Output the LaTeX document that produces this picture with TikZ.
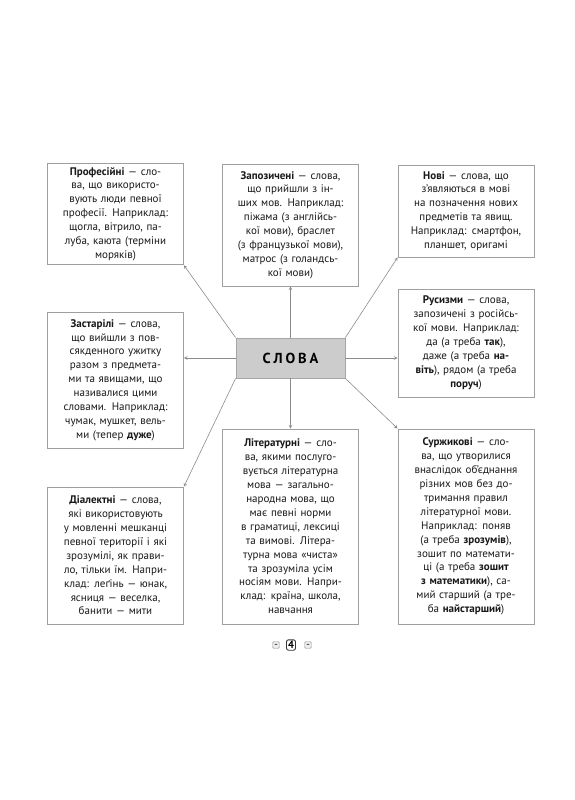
\documentclass[tikz,border=0pt]{standalone}
\usepackage{fontspec}
\setmainfont{PT Sans}
\usepackage{tikz}
\usetikzlibrary{arrows, positioning, shapes}

\begin{document}
\begin{tikzpicture}[
    x=1pt, y=-1pt,
    word/.style={draw=gray!75, line width=0.8pt, fill=white, text width=124pt, inner xsep=6pt, inner ysep=4pt,
        align=center, font=\fontsize{11}{13.9}\selectfont, text=black!90},
    root/.style={draw=gray!70, line width=0.8pt, fill=gray!40, minimum width=109pt, minimum height=40pt,
        font=\fontsize{14.5}{16}\selectfont\bfseries\addfontfeatures{LetterSpace=20}},
    link/.style={->, >=stealth, draw=gray!90, line width=0.6pt},
    pagemark/.style={draw=gray!80, fill=gray!15, rounded corners=1.5pt, minimum size=7pt, inner sep=0pt, font=\fontsize{6}{6}\selectfont\bfseries}
]
\useasboundingbox (0,0) rectangle (575,800);

\node [root] (slova) at (290.5,358) {СЛОВА};

\node [word, minimum height=98pt] (prof) at (115.5,214) {\textbf{Професійні} — сло-\\ва, що використо-\\вують люди певної\\професії. Наприклад:\\щогла, вітрило, па-\\луба, каюта (терміни\\моряків)};
\node [word, minimum height=122pt] (zapoz) at (290.5,225) {\textbf{Запозичені} — слова,\\що прийшли з ін-\\ших мов. Наприклад:\\піжама (з англійсь-\\кої мови), браслет\\(з французької мови),\\матрос (з голандсь-\\кої мови)};
\node [word, minimum height=92pt] (novi) at (466,211) {\textbf{Нові} — слова, що\\з’являються в мові\\на позначення нових\\предметів та явищ.\\Наприклад: смартфон,\\планшет, оригамі};

\node [word, minimum height=136pt] (zast) at (115.5,380) {\textbf{Застарілі} — слова,\\що вийшли з пов-\\сякденного ужитку\\разом з предмета-\\ми та явищами, що\\називалися цими\\словами. Наприклад:\\чумак, мушкет, вель-\\ми (тепер \textbf{дуже})};
\node [word, minimum height=108pt] (rus) at (466,343) {\textbf{Русизми} — слова,\\запозичені з російсь-\\кої мови. Наприклад:\\да (а треба \textbf{так}),\\даже (а треба \textbf{на-}\\\textbf{віть}), рядом (а треба\\\textbf{поруч})};

\node [word, minimum height=137pt] (dial) at (115.5,555.5) {\textbf{Діалектні} — слова,\\які використовують\\у мовленні мешканці\\певної території і які\\зрозумілі, як прави-\\ло, тільки їм. Напри-\\клад: леґінь — юнак,\\ясниця — веселка,\\банити — мити};
\node [word, minimum height=195pt] (lit) at (290.5,526.5) {\textbf{Літературні} — сло-\\ва, якими послуго-\\вується літературна\\мова — загально-\\народна мова, що\\має певні норми\\в граматиці, лексиці\\та вимові. Літера-\\турна мова «чиста»\\та зрозуміла усім\\носіям мови. Напри-\\клад: країна, школа,\\навчання};
\node [word, minimum height=195pt] (surzh) at (466,526.5) {\textbf{Суржикові} — сло-\\ва, що утворилися\\внаслідок об’єднання\\різних мов без до-\\тримання правил\\літературної мови.\\Наприклад: поняв\\(а треба \textbf{зрозумів}),\\зошит по математи-\\ці (а треба \textbf{зошит}\\\textbf{з математики}), са-\\мий старший (а тре-\\ба \textbf{найстарший})};

% page number
\node [draw=black!80, line width=0.9pt, rounded corners=2pt, inner sep=1.5pt, font=\fontsize{10.5}{10.5}\selectfont\bfseries] (page) at (291,645) {4};
\node [pagemark] (pl) at (276,645) {–};
\node [pagemark] (pr) at (308,645) {–};

\draw[link] (slova.north) -- (zapoz.south);
\draw[link] (slova.south) -- (lit.north);
\draw[link] (slova.west) -- (slova.west -| zast.east);
\draw[link] (slova.east) -- (slova.east -| rus.west);
\draw[link] (slova.north west) -- (prof.south east);
\draw[link] (slova.south west) -- (dial.north east);
\draw[link] (slova.north east) -- (novi.south west);
\draw[link] (slova.south east) -- (surzh.north west);
\end{tikzpicture}
\end{document}
